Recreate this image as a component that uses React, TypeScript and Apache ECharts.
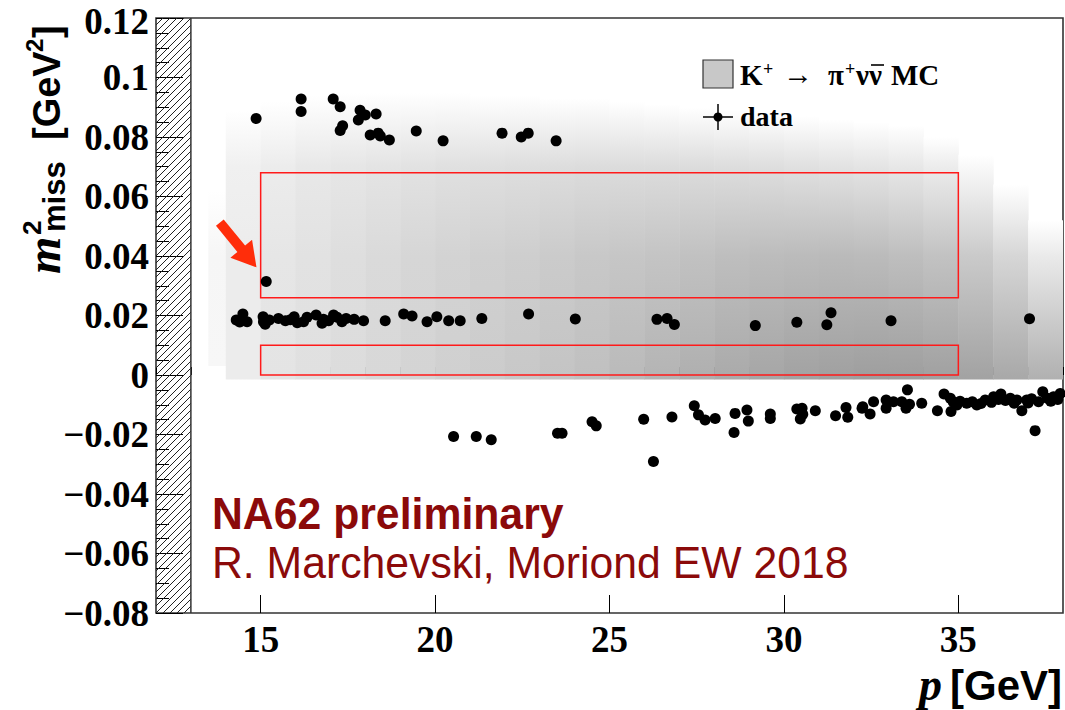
import { useEffect, useRef } from "react";
import * as echarts from "echarts";

// Axis ranges and ticks
const P_MIN = 12;
const P_MAX = 38;
const M2_MIN = -0.08;
const M2_MAX = 0.12;
const M2_STEP = 0.02;
const pMajorTicks = [15, 20, 25, 30, 35];

// Excluded momentum range drawn hatched
const hatchP = [12, 13];

// Signal regions (p range, m2 range)
const regionPMin = [15, 15];
const regionPMax = [35, 35];
const regionM2Low = [0, 0.026];
const regionM2High = [0.01, 0.068];

// Simulated K+ -> pi+ nu nubar density, one column per momentum bin.
// Gray levels (0 = black, 255 = white) at m2 = 0, 0.04 and 0.07; mcTop is where it fades out.
const mcBinLow = [13.5, 14, 15, 16, 17, 18, 19, 20, 21, 22, 23, 24, 25, 26, 27, 28, 29, 30, 31, 32, 33, 34, 35, 36, 37];
const mcBinHigh = [14, 15, 16, 17, 18, 19, 20, 21, 22, 23, 24, 25, 26, 27, 28, 29, 30, 31, 32, 33, 34, 35, 36, 37, 38];
const mcFloor = [0.003, -0.0015, -0.0015, -0.0015, -0.0015, -0.0015, -0.0015, -0.0015, -0.0015, -0.0015, -0.0015, -0.0015, -0.0015, -0.0015, -0.0015, -0.0015, -0.0015, -0.0015, -0.0015, -0.0015, -0.0015, -0.0015, -0.0015, -0.0015, -0.0015];
const mcTop = [0.062, 0.089, 0.092, 0.094, 0.095, 0.095, 0.095, 0.095, 0.094, 0.094, 0.093, 0.093, 0.092, 0.091, 0.09, 0.089, 0.088, 0.087, 0.086, 0.085, 0.084, 0.08, 0.074, 0.064, 0.052];
const mcGray0 = [247, 236, 228, 224, 220, 216, 212, 208, 204, 200, 196, 192, 186, 180, 175, 170, 166, 162, 160, 158, 158, 160, 162, 168, 176];
const mcGray4 = [246, 236, 230, 226, 222, 218, 214, 211, 208, 206, 203, 200, 198, 196, 193, 190, 188, 187, 186, 187, 190, 194, 202, 214, 234];
const mcGray7 = [250, 240, 236, 232, 230, 228, 226, 224, 223, 222, 221, 220, 220, 220, 220, 221, 222, 224, 226, 228, 231, 236, 245, 255, 255];

// Data events: momentum p [GeV] and missing mass squared [GeV^2]
const dataP = [
  14.87, 16.16, 16.16, 17.08, 17.28, 17.35, 17.28, 17.85, 18.0, 17.8, 18.31, 18.14, 18.37, 18.43, 18.69, 19.46, 20.23, 21.92, 22.47, 22.67, 23.47,
  15.16,
  14.3, 14.4, 14.49, 14.61, 15.07, 15.08, 15.13, 15.25, 15.51, 15.71, 15.85, 15.96, 16.05, 16.23, 16.33, 16.59, 16.76, 16.8, 16.95, 17.09, 17.19, 17.33, 17.45, 17.68, 17.95,
  18.57, 19.1, 19.34, 19.77, 20.05, 20.39, 20.72, 21.34, 22.68, 24.02, 26.36, 26.65, 26.86, 29.18, 30.37, 31.23, 31.35, 33.07, 37.04,
  20.53, 21.18, 21.61, 23.51, 23.64, 24.5, 24.62, 25.98, 26.26, 26.79, 27.43, 27.55, 27.74, 28.03, 28.6, 28.57, 28.94, 28.98, 29.61, 29.61,
  30.37, 30.52, 30.47, 30.54, 30.9, 31.48, 31.78, 31.83, 32.24, 32.26, 32.47, 32.57, 32.93, 32.93, 33.14, 33.38, 33.5, 33.54, 33.6, 33.95,
  34.4, 34.59, 34.77, 34.79, 34.85, 34.96, 35.05, 35.24, 35.4, 35.53, 35.65, 35.77, 35.95, 36.01, 36.15, 36.22, 36.35, 36.49, 36.6, 36.68,
  36.82, 36.96, 37.0, 37.1, 37.2, 37.3, 37.42, 37.55, 37.65, 37.73, 37.85, 37.92
];
const dataM2 = [
  0.0862, 0.0928, 0.0886, 0.0928, 0.0902, 0.0838, 0.0822, 0.089, 0.0874, 0.0857, 0.0877, 0.0807, 0.0813, 0.0803, 0.079, 0.082, 0.0787, 0.0813, 0.08, 0.0813, 0.0787,
  0.0314,
  0.0185, 0.0178, 0.0205, 0.0179, 0.0196, 0.0179, 0.0171, 0.0185, 0.019, 0.0182, 0.0186, 0.0196, 0.0176, 0.0179, 0.0194, 0.0202, 0.0174, 0.0187, 0.0182, 0.0202, 0.0194, 0.0179, 0.019, 0.0187, 0.0182,
  0.0182, 0.0205, 0.0198, 0.0179, 0.0196, 0.0182, 0.0182, 0.019, 0.0205, 0.0188, 0.0187, 0.019, 0.017, 0.0166, 0.0177, 0.0169, 0.0209, 0.0182, 0.0189,
  -0.0207, -0.0207, -0.0218, -0.0196, -0.0196, -0.0157, -0.0171, -0.0149, -0.0291, -0.0141, -0.0103, -0.0134, -0.0151, -0.0146, -0.0129, -0.0193, -0.0118, -0.0155, -0.0131, -0.0146,
  -0.0114, -0.0112, -0.0148, -0.0132, -0.012, -0.0137, -0.0109, -0.0142, -0.0112, -0.0107, -0.0131, -0.009, -0.0084, -0.0112, -0.009, -0.009, -0.0112, -0.005, -0.0098, -0.0095,
  -0.012, -0.0064, -0.0078, -0.0123, -0.009, -0.0101, -0.0088, -0.0095, -0.009, -0.0101, -0.0096, -0.0084, -0.0092, -0.0073, -0.0082, -0.0064, -0.0086, -0.0078, -0.0095, -0.0084,
  -0.012, -0.0084, -0.0094, -0.008, -0.0187, -0.009, -0.0056, -0.0078, -0.0088, -0.0073, -0.0082, -0.0062
];

// Arrow pointing at the event inside region 2 (tail, tip in p / m2)
const arrowTail = [13.83, 0.0512];
const arrowTip = [14.88, 0.0362];

const SERIF = '"Liberation Serif", "Times New Roman", serif';
const SANS = '"Liberation Sans", Arial, sans-serif';
const DARK_RED = "#8b0a0a";

const grayColor = (g: number) => `rgb(${g},${g},${g})`;

function text(x: number, baseline: number, str: string, font: string, size: number, extra: any = {}) {
  // vertical centre of the em box sits about 0.34 em above the baseline
  return {
    type: "text",
    x,
    y: baseline - 0.34 * size,
    style: { text: str, font: font.replace("SIZE", size + "px"), fill: extra.fill || "#000", align: extra.align || "left", verticalAlign: "middle" },
    scaleX: extra.scaleX || 1,
    z: 20,
  };
}

export default function App() {
  const ref = useRef<HTMLDivElement>(null);

  useEffect(() => {
    if (!ref.current) return;
    const chart = echarts.init(ref.current, undefined, { renderer: "svg" });

    const mcRows = mcBinLow.map((lo, i) => [lo, mcBinHigh[i], mcFloor[i], mcTop[i], mcGray0[i], mcGray4[i], mcGray7[i]]);
    const regionRows = regionPMin.map((p0, i) => [p0, regionPMax[i], regionM2Low[i], regionM2High[i]]);
    const points = dataP.map((p, i) => [p, dataM2[i]]);

    const labelFont = { fontFamily: SERIF, fontWeight: "bold" as const, fontSize: 37, lineHeight: 30, color: "#000" };

    chart.setOption({
      animation: false,
      backgroundColor: "#fff",
      grid: {
        left: 156, right: 2, top: 18, bottom: 97,
        outerBoundsMode: "none",
        containLabel: false,
        show: true, borderColor: "#333", borderWidth: 1.6, backgroundColor: "transparent",
      },
      xAxis: [
        {
          type: "value",
          min: P_MIN,
          max: P_MAX,
          interval: 1,
          axisLine: { show: false },
          axisTick: { show: true, inside: true, length: 8, lineStyle: { color: "#000", width: 1 } },
          axisLabel: { show: false },
          splitLine: { show: false },
        },
        {
          type: "value",
          min: P_MIN,
          max: P_MAX,
          position: "bottom",
          axisLine: { show: false },
          axisTick: { show: true, inside: true, length: 18, customValues: pMajorTicks, lineStyle: { color: "#000", width: 1 } },
          axisLabel: { show: true, customValues: pMajorTicks, margin: 11, ...labelFont },
          splitLine: { show: false },
        },
      ],
      yAxis: {
        type: "value",
        min: M2_MIN,
        max: M2_MAX,
        interval: M2_STEP,
        axisLine: { show: false },
        axisTick: { show: true, inside: true, length: 27, lineStyle: { color: "#000", width: 1 } },
        minorTick: { show: true, splitNumber: 4, length: 13, lineStyle: { color: "#000", width: 1 } },
        axisLabel: {
          margin: 7,
          ...labelFont,
          formatter: (v: number) => {
            const s = String(+v.toFixed(3)).replace("-", "\u2212");
            // the top label is nudged down a little so it stays inside the page
            return Math.abs(v - M2_MAX) < 1e-9 ? `{top|${s}}` : s;
          },
          rich: { top: { ...labelFont, padding: [6, 0, 0, 0] } },
        },
        splitLine: { show: false },
      },
      series: [
        {
          type: "custom",
          name: "mc",
          coordinateSystem: "cartesian2d",
          clip: true,
          z: 1,
          data: mcRows,
          renderItem: (_params: any, api: any) => {
            const lo = api.value(0), hi = api.value(1), floor = api.value(2), top = api.value(3);
            const g0 = api.value(4), g4 = api.value(5), g7 = api.value(6);
            const a = api.coord([lo, floor]);
            const b = api.coord([hi, top]);
            const span = top - floor;
            const stops: any[] = [{ offset: 0, color: grayColor(g0) }];
            if (top > 0.045) stops.push({ offset: (0.04 - floor) / span, color: grayColor(g4) });
            if (top > 0.075) stops.push({ offset: (0.07 - floor) / span, color: grayColor(g7) });
            stops.push({ offset: 1, color: "rgb(255,255,255)" });
            return {
              type: "rect",
              shape: { x: a[0], y: b[1], width: b[0] - a[0] + 0.5, height: a[1] - b[1] },
              style: { fill: new echarts.graphic.LinearGradient(0, 1, 0, 0, stops) },
            };
          },
        },
        {
          type: "custom",
          name: "regions",
          coordinateSystem: "cartesian2d",
          z: 3,
          data: regionRows,
          renderItem: (_params: any, api: any) => {
            const a = api.coord([api.value(0), api.value(2)]);
            const b = api.coord([api.value(1), api.value(3)]);
            return {
              type: "rect",
              shape: { x: a[0], y: b[1], width: b[0] - a[0], height: a[1] - b[1] },
              style: { fill: "none", stroke: "#ff1a1a", lineWidth: 1.5 },
            };
          },
        },
        {
          type: "scatter",
          name: "data",
          z: 5,
          symbol: "circle",
          symbolSize: 11,
          itemStyle: { color: "#000", opacity: 1 },
          data: points,
        },
      ],
    });

    // Decorations placed with the axes' own scales
    const px = (p: number, m: number) => chart.convertToPixel({ gridIndex: 0 }, [p, m]) as number[];
    const [hx0, hyBot] = px(hatchP[0], M2_MIN);
    const [hx1, hyTop] = px(hatchP[1], M2_MAX);
    const hatch: any[] = [];
    const gap = 7;
    for (let c = hx0 + hyTop; c <= hx1 + hyBot; c += gap) {
      const xa = Math.max(hx0, c - hyBot);
      const xb = Math.min(hx1, c - hyTop);
      if (xb <= xa) continue;
      hatch.push({ type: "line", shape: { x1: xa, y1: c - xa, x2: xb, y2: c - xb }, style: { stroke: "#222", lineWidth: 1 }, z: 2, silent: true });
    }
    hatch.push({ type: "line", shape: { x1: hx1, y1: hyTop, x2: hx1, y2: hyBot }, style: { stroke: "#333", lineWidth: 1.5 }, z: 2 });

    // red arrow
    const t = px(arrowTail[0], arrowTail[1]);
    const h = px(arrowTip[0], arrowTip[1]);
    const len = Math.hypot(h[0] - t[0], h[1] - t[1]);
    const dx = (h[0] - t[0]) / len, dy = (h[1] - t[1]) / len;
    const nx = -dy, ny = dx;
    const sw = 5, hw = 14, hl = 24;
    const hb = [h[0] - dx * hl, h[1] - dy * hl];
    const arrowPts = [
      [t[0] + nx * sw, t[1] + ny * sw],
      [hb[0] + nx * sw, hb[1] + ny * sw],
      [hb[0] + nx * hw, hb[1] + ny * hw],
      [h[0], h[1]],
      [hb[0] - nx * hw, hb[1] - ny * hw],
      [hb[0] - nx * sw, hb[1] - ny * sw],
      [t[0] - nx * sw, t[1] - ny * sw],
    ];

    const LEG = `bold SIZE ${SERIF}`;
    const graphic: any[] = [
      ...hatch,
      { type: "polygon", shape: { points: arrowPts }, style: { fill: "#ff2d0a" }, z: 10 },
      // legend
      { type: "rect", shape: { x: 703, y: 60, width: 30, height: 28 }, style: { fill: "#c8c8c8", stroke: "#333", lineWidth: 1.2 }, z: 20 },
      text(740, 85, "K", LEG, 29),
      text(763, 75, "+", LEG, 18),
      text(783, 84, "\u2192", `SIZE ${SERIF}`, 30),
      text(828, 85, "\u03C0", LEG, 29),
      text(845, 75, "+", LEG, 18),
      text(856, 85, "\u03BD\u03BD", LEG, 29),
      { type: "line", shape: { x1: 871, y1: 65, x2: 884, y2: 65 }, style: { stroke: "#000", lineWidth: 1.6 }, z: 20 },
      text(891, 85, "MC", LEG, 29),
      { type: "line", shape: { x1: 703, y1: 117, x2: 733, y2: 117 }, style: { stroke: "#000", lineWidth: 1.5 }, z: 20 },
      { type: "line", shape: { x1: 718, y1: 104, x2: 718, y2: 130 }, style: { stroke: "#000", lineWidth: 1.5 }, z: 20 },
      { type: "circle", shape: { cx: 718, cy: 117, r: 4.5 }, style: { fill: "#000" }, z: 20 },
      text(740, 126, "data", LEG, 28),
      // experiment labels
      text(212, 528, "NA62 preliminary", `bold SIZE ${SANS}`, 45, { fill: DARK_RED, scaleX: 0.95 }),
      text(212, 577, "R. Marchevski, Moriond EW 2018", `SIZE ${SANS}`, 45, { fill: DARK_RED, scaleX: 0.95 }),
      // x-axis title
      text(942, 700, "p", `italic bold SIZE ${SERIF}`, 46, { align: "right" }),
      text(1062, 700, "[GeV]", `bold SIZE ${SANS}`, 42, { align: "right" }),
      // y-axis title, rotated to read upwards
      {
        type: "group",
        x: 60,
        y: 274,
        rotation: Math.PI / 2,
        children: [
          text(0, 0, "m", `italic bold SIZE ${SERIF}`, 48),
          text(39, -19, "2", `bold SIZE ${SANS}`, 26),
          text(42, 5, "miss", `bold SIZE ${SANS}`, 31),
          text(134, 0, "[GeV", `bold SIZE ${SANS}`, 38),
          text(222, -17, "2", `bold SIZE ${SANS}`, 24),
          text(236, 0, "]", `bold SIZE ${SANS}`, 38),
        ],
      },
    ];
    chart.setOption({ graphic });

    return () => chart.dispose();
  }, []);

  return <div ref={ref} style={{ position: "fixed", left: 0, top: 0, width: 1065, height: 710, background: "#fff" }} />;
}
